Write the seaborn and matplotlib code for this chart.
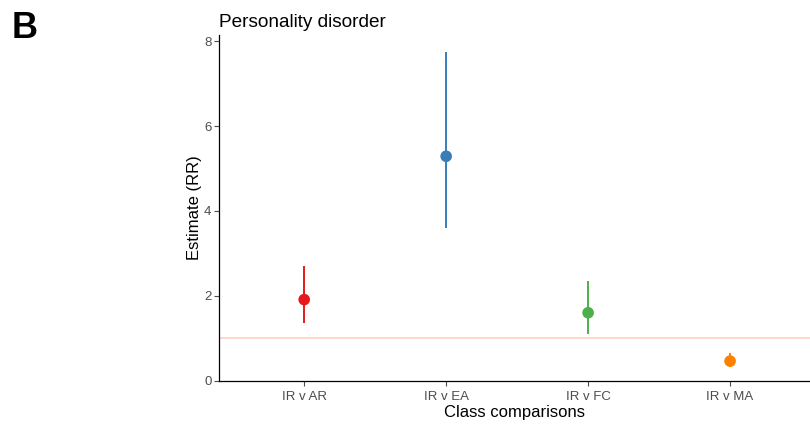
import matplotlib
matplotlib.use("Agg")
import matplotlib.pyplot as plt
import seaborn as sns
import pandas as pd

# Rate-ratio estimates with 95% intervals for each class comparison
comparisons = ["IR v AR", "IR v EA", "IR v FC", "IR v MA"]
estimates = [1.91, 5.29, 1.60, 0.46]
lower_ci = [1.36, 3.60, 1.10, 0.33]
upper_ci = [2.70, 7.76, 2.36, 0.645]
colours = ["#E41A1C", "#377EB8", "#4DAF4A", "#FF7F00"]
null_value = 1.0

df = pd.DataFrame({
    "comparison": comparisons,
    "estimate": estimates,
    "lower": lower_ci,
    "upper": upper_ci,
})
df["pos"] = range(len(df))

sns.set_theme(style="ticks")
plt.rcParams["font.family"] = ["Liberation Sans", "DejaVu Sans"]
plt.rcParams["text.color"] = "black"

fig = plt.figure(figsize=(8.1, 4.32), dpi=100)
ax = fig.add_axes([0.2704, 0.118, 0.7296, 0.801])

ax.axhline(null_value, color="#FBD3C4", lw=1.2, zorder=1)

for i, row in df.iterrows():
    ax.vlines(row["pos"], row["lower"], row["upper"], color=colours[i], lw=1.4, zorder=2)

sns.scatterplot(data=df, x="pos", y="estimate", hue="comparison",
                palette=colours, s=70, edgecolor="none", legend=False,
                ax=ax, zorder=3)

ax.set_xlim(-0.6, 3.563)
ax.set_ylim(-0.01, 8.15)
ax.set_xticks(df["pos"])
ax.set_xticklabels(comparisons)
ax.set_yticks([0, 2, 4, 6, 8])

ax.set_xlabel("Class comparisons", fontsize=12, color="black", labelpad=1)
ax.set_ylabel("Estimate (RR)", fontsize=12, color="black", labelpad=1.5)
ax.set_title("Personality disorder", fontsize=13.7, loc="left", pad=6, color="black")

ax.tick_params(axis="both", labelsize=9.5, colors="#4D4D4D", length=3.5, width=0.8)
ax.tick_params(axis="x", pad=4)
ax.tick_params(axis="y", pad=2)
for side in ["left", "bottom"]:
    ax.spines[side].set_color("black")
    ax.spines[side].set_linewidth(0.9)
sns.despine(ax=ax)

fig.text(0.014, 0.975, "B", fontsize=26, fontweight="bold", color="black",
         va="top", ha="left")

fig.savefig("out.png", dpi=100)
